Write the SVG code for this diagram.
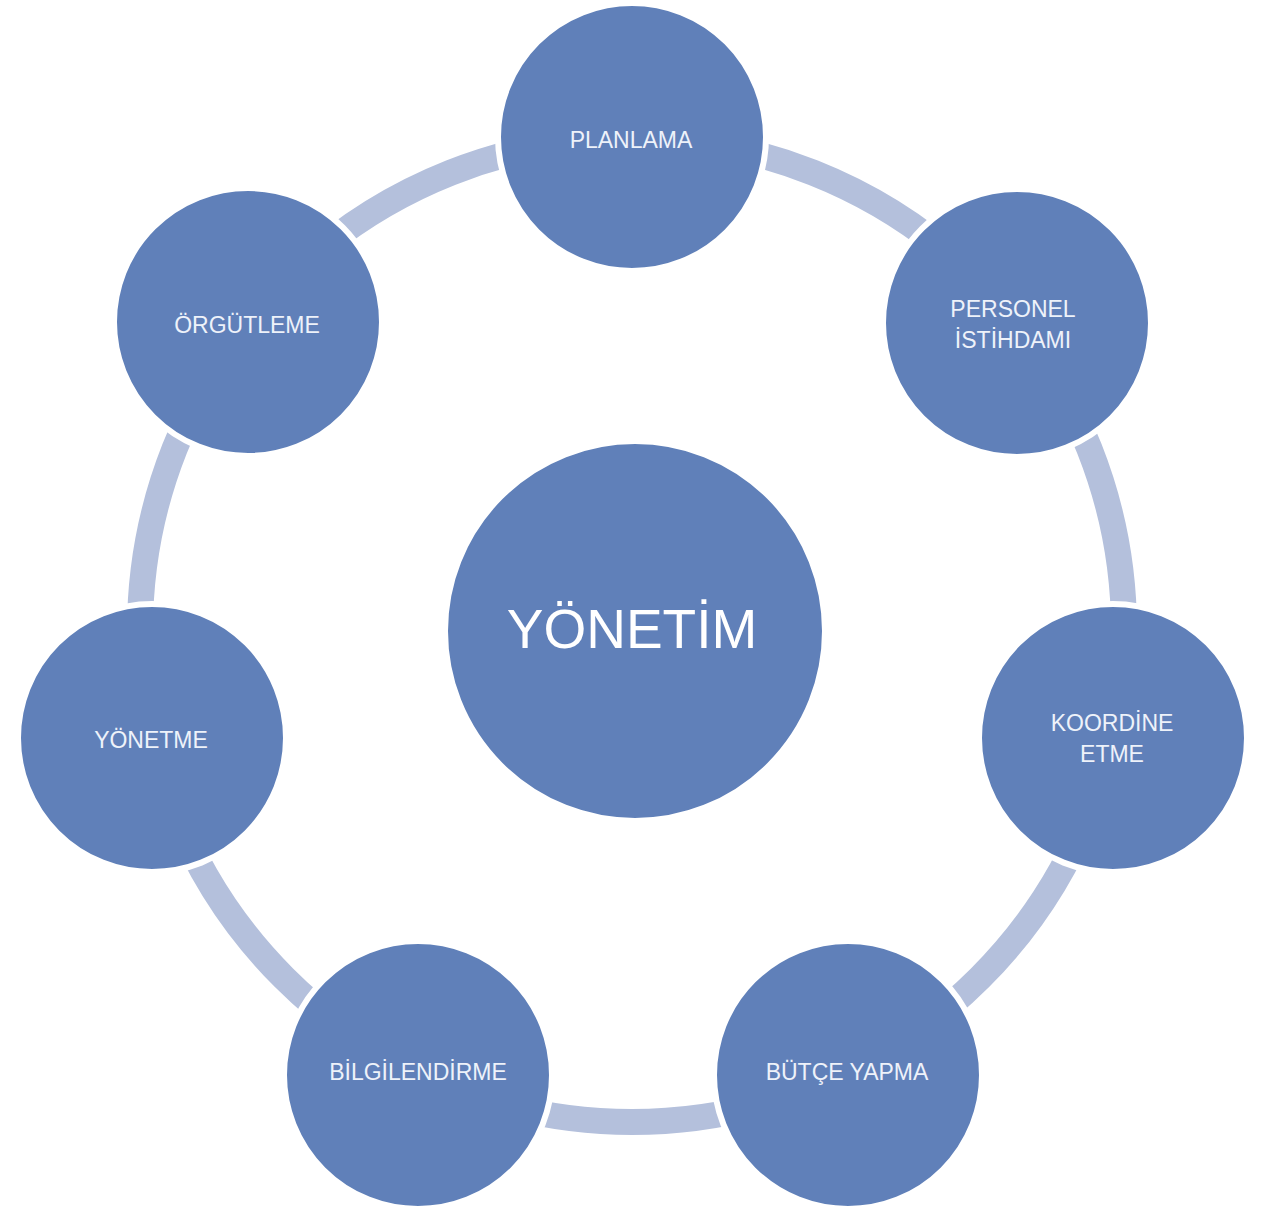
<svg xmlns="http://www.w3.org/2000/svg" width="1266" height="1209" viewBox="0 0 1266 1209">
<style>
.node{fill:#6080b9;stroke:#ffffff;stroke-width:6}
.lbl{font-family:"Liberation Sans",Arial,sans-serif;font-size:23px;fill:#eef2fa;text-anchor:middle}
.big{font-family:"Liberation Sans",Arial,sans-serif;font-size:55px;fill:#ffffff;text-anchor:middle}
</style>
<rect width="1266" height="1209" fill="#ffffff"/>
<g id="connectors">
<circle cx="632" cy="630" r="492" fill="none" stroke="#b4c0dc" stroke-width="26"/>
</g>
<g id="center">
<circle class="node" cx="635" cy="631" r="190"/>
<text class="big" x="632" y="648">YÖNETİM</text>
</g>
<g id="planlama">
<circle class="node" cx="632" cy="137" r="134"/>
<text class="lbl" x="631" y="148">PLANLAMA</text>
</g>
<g id="personel">
<circle class="node" cx="1017" cy="323" r="134"/>
<text class="lbl" x="1013" y="317">PERSONEL</text>
<text class="lbl" x="1013" y="348">İSTİHDAMI</text>
</g>
<g id="koordine">
<circle class="node" cx="1113" cy="738" r="134"/>
<text class="lbl" x="1112" y="731">KOORDİNE</text>
<text class="lbl" x="1112" y="762">ETME</text>
</g>
<g id="butce">
<circle class="node" cx="848" cy="1075" r="134"/>
<text class="lbl" x="847" y="1080">BÜTÇE YAPMA</text>
</g>
<g id="bilgilendirme">
<circle class="node" cx="418" cy="1075" r="134"/>
<text class="lbl" x="418" y="1080">BİLGİLENDİRME</text>
</g>
<g id="yonetme">
<circle class="node" cx="152" cy="738" r="134"/>
<text class="lbl" x="151" y="748">YÖNETME</text>
</g>
<g id="orgutleme">
<circle class="node" cx="248" cy="322" r="134"/>
<text class="lbl" x="247" y="333">ÖRGÜTLEME</text>
</g>
</svg>
